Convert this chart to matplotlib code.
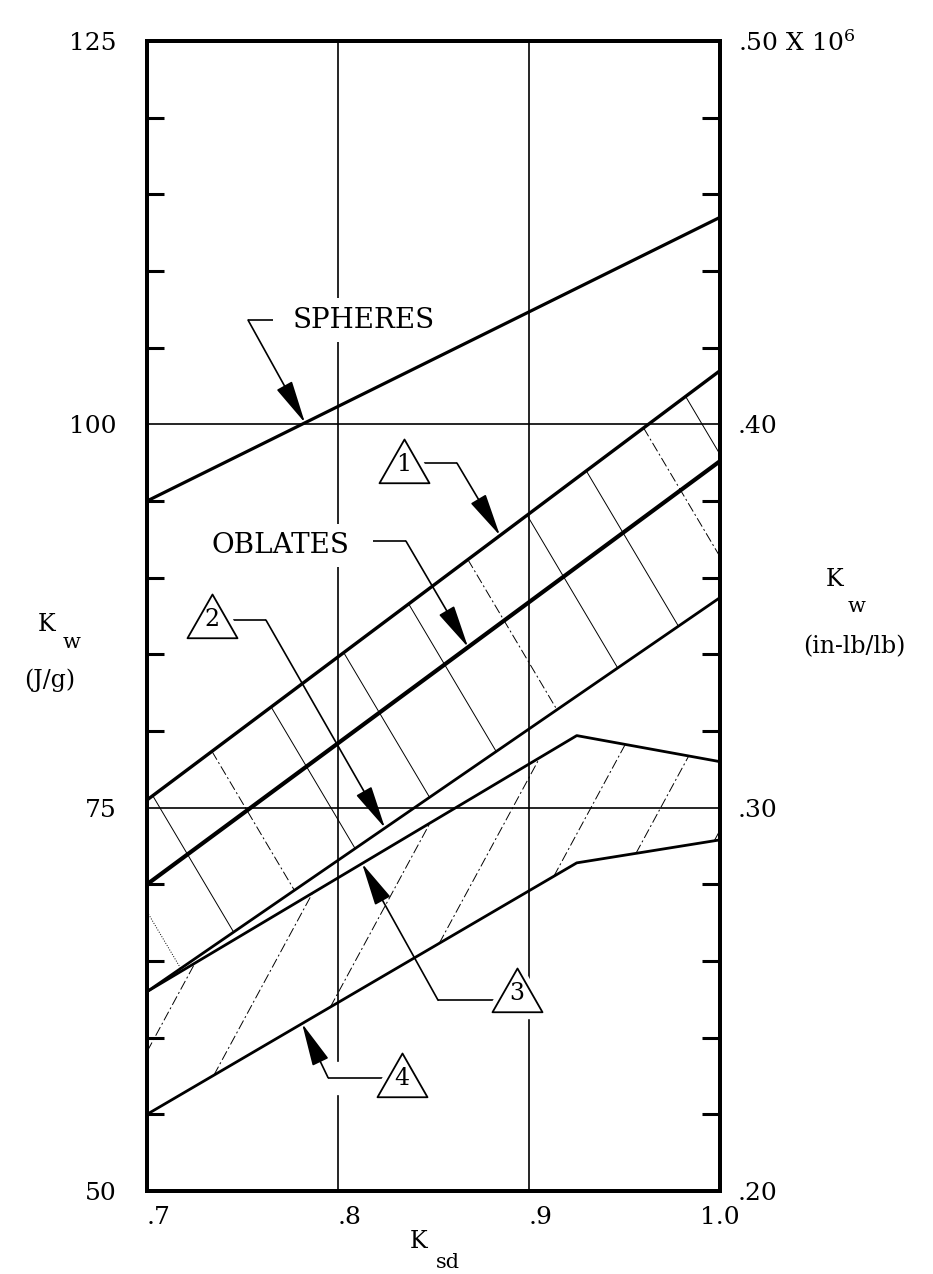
import numpy as np
import matplotlib
matplotlib.use('Agg')
import matplotlib.pyplot as plt
from matplotlib.path import Path
import matplotlib.patheffects as pe

plt.rcParams['font.family'] = ['DejaVu Serif']
plt.rcParams['mathtext.fontset'] = 'dejavuserif'

# ---------------- data ----------------
ksd_spheres = [0.70, 1.00]
kw_spheres = [95.0, 113.5]
ksd_line1 = [0.70, 1.00]
kw_line1 = [75.5, 103.5]
ksd_oblates = [0.70, 1.00]
kw_oblates = [70.0, 97.6]
ksd_line2 = [0.70, 1.00]
kw_line2 = [63.0, 88.7]
ksd_line3 = [0.70, 0.925, 1.00]
kw_line3 = [63.0, 79.7, 78.0]
ksd_line4 = [0.70, 0.925, 1.00]
kw_line4 = [55.0, 71.4, 72.9]

# hatch lines: start abscissa on the boundary and slope (J/g per unit Ksd)
hatch_upper_start = [0.676, 0.703, 0.734, 0.765, 0.803, 0.837, 0.868, 0.899, 0.930, 0.960, 0.982]
hatch_upper_slope = -210.0
hatch_lower_start = [0.674, 0.735, 0.796, 0.853, 0.913, 0.956, 0.997]
hatch_lower_slope = 230.0

x_ticks = [0.7, 0.8, 0.9, 1.0]
x_ticklabels = ['.7', '.8', '.9', '1.0']
y_ticks = [50, 75, 100, 125]
y_ticklabels = ['50', '75', '100', '125']
y_minor = [55, 60, 65, 70, 80, 85, 90, 95, 105, 110, 115, 120]
r_ticks = [0.20, 0.30, 0.40, 0.50]
r_ticklabels = ['.20', '.30', '.40', r'.50 X 10$^{6}$']
r_minor = [0.22, 0.24, 0.26, 0.28, 0.32, 0.34, 0.36, 0.38, 0.42, 0.44, 0.46, 0.48]
grid_x = [0.8, 0.9]
grid_y = [75, 100]

# annotation anchors (Ksd positions)
spheres_text = (0.8136, 106.8)
oblates_text = (0.7699, 92.1)
tri_labels = ['1', '2', '3', '4']
tri_pos = [(0.8343, 97.4), (0.7340, 87.3), (0.8937, 62.9), (0.8335, 57.35)]

# ---------------- helpers ----------------
def yat(xs, ys, x):
    xs = np.asarray(xs, float); ys = np.asarray(ys, float)
    if x <= xs[0]:
        return ys[0] + (x - xs[0]) * (ys[1] - ys[0]) / (xs[1] - xs[0])
    if x >= xs[-1]:
        return ys[-1] + (x - xs[-1]) * (ys[-1] - ys[-2]) / (xs[-1] - xs[-2])
    return float(np.interp(x, xs, ys))

def hatch_seg(x0, slope, xs_a, ys_a, xs_b, ys_b):
    y0 = yat(xs_a, ys_a, x0)
    g = np.linspace(x0, x0 + 0.2, 4001)
    f = y0 + slope * (g - x0) - np.array([yat(xs_b, ys_b, v) for v in g])
    idx = np.where(np.sign(f[1:]) != np.sign(f[:-1]))[0]
    x1 = g[idx[0] + 1] if len(idx) else g[-1]
    return [x0, x1], [y0, y0 + slope * (x1 - x0)]

# ---------------- figure ----------------
W, H = 933, 1274
fig = plt.figure(figsize=(W / 100, H / 100), dpi=100)
L, R, T, B = 147, 720, 41, 1191
ax = fig.add_axes([L / W, 1 - B / H, (R - L) / W, (B - T) / H])
ax.set_xlim(0.7, 1.0)
ax.set_ylim(50, 125)
for s in ax.spines.values():
    s.set_linewidth(2.8)

# grid
for gx in grid_x:
    ax.axvline(gx, color='black', lw=1.2, zorder=1)
for gy in grid_y:
    ax.axhline(gy, color='black', lw=1.2, zorder=1)

# hatching
upper_styles = [':', '-', (0, (10, 3, 2, 3)), '-', '-', '-', (0, (10, 3, 2, 3)), '-', '-', (0, (10, 3, 2, 3)), '-']
for x0, ls in zip(hatch_upper_start, upper_styles):
    hx, hy = hatch_seg(x0, hatch_upper_slope, ksd_line1, kw_line1, ksd_line2, kw_line2)
    ax.plot(hx, hy, color='black', lw=0.7, ls=ls, zorder=2)
for x0 in hatch_lower_start:
    hx, hy = hatch_seg(x0, hatch_lower_slope, ksd_line4, kw_line4, ksd_line3, kw_line3)
    ax.plot(hx, hy, color='black', lw=0.7, ls=(0, (10, 3, 2, 3)), zorder=2)

# main curves
ax.plot(ksd_spheres, kw_spheres, color='black', lw=2.3, zorder=3)
ax.plot(ksd_line1, kw_line1, color='black', lw=2.4, zorder=3)
ax.plot(ksd_oblates, kw_oblates, color='black', lw=3.0, zorder=3)
ax.plot(ksd_line2, kw_line2, color='black', lw=2.0, zorder=3)
ax.plot(ksd_line3, kw_line3, color='black', lw=2.0, zorder=3)
ax.plot(ksd_line4, kw_line4, color='black', lw=2.0, zorder=3)

# leaders with arrows
arrow_kw = dict(arrowstyle='-|>,head_length=2.7,head_width=0.55', mutation_scale=10,
                color='black', lw=1.2, shrinkA=0, shrinkB=0)

def leader(x_start, x_bend, y_h, x_tip, xs, ys, gap=False):
    effects = [pe.withStroke(linewidth=24, foreground='white')] if gap else None
    ax.plot([x_start, x_bend], [y_h, y_h], color='black', lw=1.2, zorder=4,
            path_effects=effects, solid_capstyle='butt')
    ax.annotate('', xy=(x_tip, yat(xs, ys, x_tip)), xytext=(x_bend, y_h),
                arrowprops=arrow_kw, zorder=4)

leader(0.766, 0.7529, 106.8, 0.7827, ksd_spheres, kw_spheres)
leader(0.8183, 0.8356, 92.38, 0.8681, ksd_oblates, kw_oblates)
leader(0.8429, 0.8623, 97.47, 0.8848, ksd_line1, kw_line1)
leader(0.7435, 0.7623, 87.23, 0.8246, ksd_line2, kw_line2)
leader(0.8838, 0.8524, 62.44, 0.8126, ksd_line3, kw_line3)
leader(0.8236, 0.7948, 57.39, 0.7812, ksd_line4, kw_line4, gap=True)

# texts
box = dict(boxstyle='square,pad=0.3', fc='white', ec='none')
ax.text(*spheres_text, 'SPHERES', fontsize=20, ha='center', va='center', bbox=box, zorder=5)
ax.text(*oblates_text, 'OBLATES', fontsize=20, ha='center', va='center', bbox=box, zorder=5)

tri = Path([(-1, -0.75), (1, -0.75), (0, 1), (-1, -0.75)],
           [Path.MOVETO, Path.LINETO, Path.LINETO, Path.CLOSEPOLY])
for lab, (tx, ty) in zip(tri_labels, tri_pos):
    ax.plot([tx], [ty], marker=tri, ms=44, mfc='white', mec='white', mew=4, zorder=5, clip_on=False)
    ax.plot([tx], [ty], marker=tri, ms=36, mfc='white', mec='black', mew=1.3, zorder=6, clip_on=False)
    ax.text(tx, ty, lab, fontsize=17, ha='center', va='center', zorder=7)

# left axis ticks
ax.set_xticks(x_ticks)
ax.set_xticklabels(x_ticklabels)
ax.tick_params(axis='x', which='major', length=0, pad=11, labelsize=18)
for lbl, ha in zip(ax.get_xticklabels(), ['left', 'left', 'left', 'center']):
    lbl.set_horizontalalignment(ha)
ax.set_yticks(y_ticks)
ax.set_yticklabels(y_ticklabels)
ax.set_yticks(y_minor, minor=True)
ax.tick_params(axis='y', which='major', length=0, pad=22, labelsize=18)
ax.tick_params(axis='y', which='minor', direction='in', length=12, width=2.2)
ax.tick_params(axis='x', which='minor', length=0)

# right axis
ax2 = ax.twinx()
ax2.set_ylim(0.20, 0.50)
ax2.set_yticks(r_ticks)
ax2.set_yticklabels(r_ticklabels)
ax2.set_yticks(r_minor, minor=True)
ax2.tick_params(axis='y', which='major', length=0, pad=13, labelsize=18)
ax2.tick_params(axis='y', which='minor', direction='in', length=13, width=2.2)
for s in ax2.spines.values():
    s.set_linewidth(2.8)

# axis titles
def ftext(x, y, s, size):
    fig.text(x / W, 1 - y / H, s, fontsize=size, ha='center', va='center')

ftext(47, 625, 'K', 17)
ftext(72, 643, 'w', 15)
ftext(50, 680, '(J/g)', 17)
ftext(835, 580, 'K', 17)
ftext(857, 606, 'w', 15)
ftext(854, 647, '(in-lb/lb)', 17)
ftext(419, 1241, 'K', 17)
ftext(448, 1263, 'sd', 15)

fig.savefig('out.png', dpi=100, facecolor='white')
